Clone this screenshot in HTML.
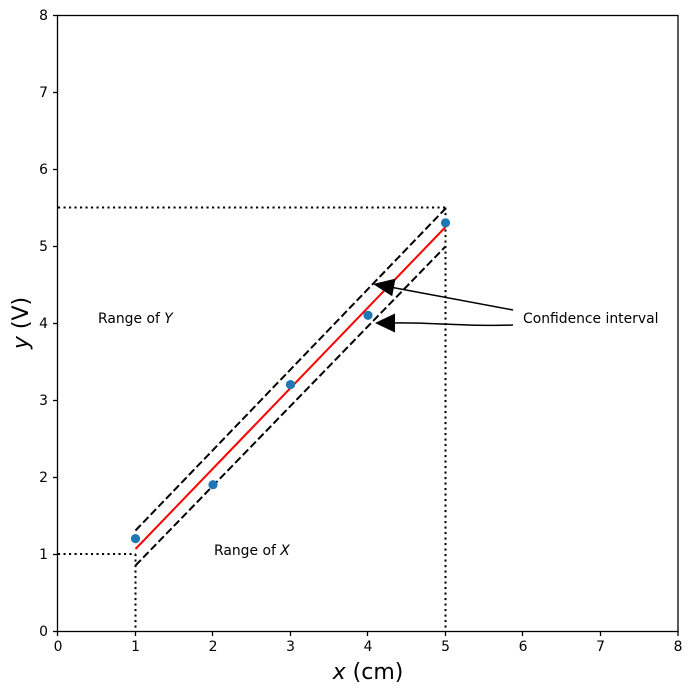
<!DOCTYPE html>
<html><head><meta charset="utf-8"><style>
html,body{margin:0;padding:0;background:#fff;}
svg{display:block;font-family:"DejaVu Sans","Liberation Sans",sans-serif;}
</style></head><body>
<svg width="692" height="693" viewBox="0 0 692 693" xmlns="http://www.w3.org/2000/svg">
<rect width="692" height="693" fill="#fff"/>
<!-- dotted range lines -->
<g stroke="#000" stroke-width="2" stroke-dasharray="2.1,3.4" fill="none">
<line x1="58" y1="207.5" x2="445.5" y2="207.5"/>
<line x1="445.5" y1="207.5" x2="445.5" y2="631"/>
<line x1="58" y1="554" x2="135.5" y2="554"/>
<line x1="135.5" y1="554" x2="135.5" y2="631"/>
</g>
<!-- confidence dashed -->
<g stroke="#000" stroke-width="2" stroke-dasharray="7.7,3.3" fill="none">
<line x1="135.5" y1="530.5" x2="445.5" y2="208.5"/>
<line x1="135.5" y1="565.5" x2="445.5" y2="246.5"/>
</g>
<!-- fit line -->
<line x1="135.5" y1="549" x2="445.5" y2="227" stroke="#ff0000" stroke-width="2"/>
<!-- points -->
<g fill="#1f77b4">
<circle cx="135.5" cy="538.6" r="4.6"/>
<circle cx="213" cy="484.7" r="4.6"/>
<circle cx="290.5" cy="384.6" r="4.6"/>
<circle cx="368" cy="315.3" r="4.6"/>
<circle cx="445.5" cy="222.9" r="4.6"/>
</g>
<!-- arrows -->
<g stroke="#000" stroke-width="1.5" fill="none">
<line x1="513" y1="310" x2="390" y2="287"/>
<path d="M513,325 C470,327 430,322 392,323"/>
</g>
<g fill="#000">
<polygon points="373,284 395.5,278.6 392.2,296.3"/>
<polygon points="375,323 395,313.5 395,332.5"/>
</g>
<!-- texts -->
<g font-size="13.9" fill="#000">
<text x="523" y="323">Confidence interval</text>
<text x="98" y="323">Range of <tspan font-style="italic">Y</tspan></text>
<text x="214" y="555">Range of <tspan font-style="italic">X</tspan></text>
</g>
<!-- frame -->
<rect x="57.5" y="15.5" width="620.5" height="616" fill="none" stroke="#000" stroke-width="1.3"/>
<!-- ticks -->
<g stroke="#000" stroke-width="1.3">
<line x1="57.5" y1="631" x2="57.5" y2="636"/>
<line x1="135.5" y1="631" x2="135.5" y2="636"/>
<line x1="212.5" y1="631" x2="212.5" y2="636"/>
<line x1="290.5" y1="631" x2="290.5" y2="636"/>
<line x1="367.5" y1="631" x2="367.5" y2="636"/>
<line x1="445.5" y1="631" x2="445.5" y2="636"/>
<line x1="522.5" y1="631" x2="522.5" y2="636"/>
<line x1="600.5" y1="631" x2="600.5" y2="636"/>
<line x1="678" y1="631" x2="678" y2="636"/>
<line x1="53" y1="631.5" x2="58" y2="631.5"/>
<line x1="53" y1="554.5" x2="58" y2="554.5"/>
<line x1="53" y1="477.5" x2="58" y2="477.5"/>
<line x1="53" y1="400.5" x2="58" y2="400.5"/>
<line x1="53" y1="323.5" x2="58" y2="323.5"/>
<line x1="53" y1="246.5" x2="58" y2="246.5"/>
<line x1="53" y1="169.5" x2="58" y2="169.5"/>
<line x1="53" y1="92.5" x2="58" y2="92.5"/>
<line x1="53" y1="15.5" x2="58" y2="15.5"/>
</g>
<g font-size="13.9" fill="#000" text-anchor="middle">
<text x="58" y="651">0</text>
<text x="135.5" y="651">1</text>
<text x="213" y="651">2</text>
<text x="290.5" y="651">3</text>
<text x="368" y="651">4</text>
<text x="445.5" y="651">5</text>
<text x="523" y="651">6</text>
<text x="600.5" y="651">7</text>
<text x="678" y="651">8</text>
</g>
<g font-size="13.9" fill="#000" text-anchor="end">
<text x="48" y="636">0</text>
<text x="48" y="559">1</text>
<text x="48" y="482">2</text>
<text x="48" y="405">3</text>
<text x="48" y="328">4</text>
<text x="48" y="251">5</text>
<text x="48" y="174">6</text>
<text x="48" y="97">7</text>
<text x="48" y="20">8</text>
</g>
<text x="368" y="679" font-size="22" text-anchor="middle" fill="#000"><tspan font-style="italic">x</tspan> (cm)</text>
<text transform="translate(28,323) rotate(-90)" font-size="22" text-anchor="middle" fill="#000"><tspan font-style="italic">y</tspan> (V)</text>
</svg>
</body></html>
